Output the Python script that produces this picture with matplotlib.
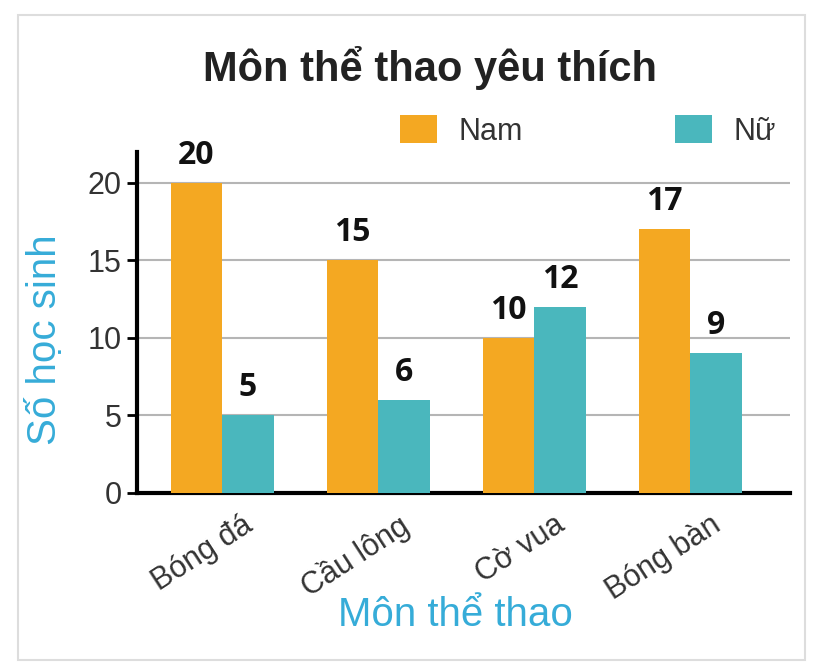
import matplotlib.pyplot as plt
import numpy as np
import matplotlib as mpl
import matplotlib.transforms as mtransforms
from matplotlib.patches import Rectangle

mpl.rcParams['font.family'] = ['Liberation Sans', 'DejaVu Sans']

sports = ["Bóng đá", "Cầu lông", "Cờ vua", "Bóng bàn"]
nam = [20, 15, 10, 17]
nu = [5, 6, 12, 9]
yticks = [0, 5, 10, 15, 20]

orange = "#F4A822"
teal = "#4AB7BD"
blue = "#36ACD8"

fig = plt.figure(figsize=(8.23, 6.72), dpi=100)
ax = fig.add_axes([0.1665, 0.2664, 0.7935, 0.5076])

# light frame around the whole picture
fig.patches.append(Rectangle((0.022, 0.018), 0.956, 0.96, transform=fig.transFigure,
                             fill=False, edgecolor="#dddddd", linewidth=1.5))

x = np.arange(len(sports))
w = 0.33
b1 = ax.bar(x - w / 2, nam, w, color=orange, label="Nam", zorder=3)
b2 = ax.bar(x + w / 2, nu, w, color=teal, label="Nữ", zorder=3)

for bars in (b1, b2):
    ax.bar_label(bars, padding=8, fontsize=23, fontweight='bold', color="#111111",
                 family=['Open Sans', 'DejaVu Sans'])

ax.set_xlim(-0.545, 3.64)
ax.set_ylim(0, 22)
ax.set_yticks(yticks)
ax.yaxis.grid(True, color="#b5b5b5", linewidth=1.5, zorder=0)
ax.set_axisbelow(True)

ax.spines['top'].set_visible(False)
ax.spines['right'].set_visible(False)
ax.spines['left'].set_linewidth(3)
ax.spines['bottom'].set_linewidth(3)
ax.tick_params(axis='y', labelsize=22, labelcolor="#333333", length=7, width=2, pad=4)
ax.tick_params(axis='x', length=0, pad=12)

ax.set_xticks(x)
ax.set_xticklabels(sports, rotation=33, ha='right', rotation_mode='anchor',
                   fontsize=22, color="#333333")
shift = mtransforms.ScaledTranslation(20 / 100, 0, fig.dpi_scale_trans)
for lbl in ax.get_xticklabels():
    lbl.set_transform(lbl.get_transform() + shift)

ax.set_ylabel("Số học sinh", fontsize=29, color=blue, va='center')
ax.yaxis.set_label_coords(-0.141, 0.449)
ax.set_xlabel("Môn thể thao", fontsize=29, color=blue, va='center')
ax.xaxis.set_label_coords(0.487, -0.358)

fig.text(0.5225, 0.899, "Môn thể thao yêu thích", ha='center', va='center',
         fontsize=30, fontweight='bold', color="#222222")

ax.legend(loc='center left', bbox_to_anchor=(0.403, 1.062), ncol=2, frameon=False,
          fontsize=22, handlelength=1.2, handleheight=1.05, columnspacing=5.0,
          handletextpad=0.7, borderpad=0, borderaxespad=0, labelcolor="#333333")

fig.savefig("out.png", dpi=100)
